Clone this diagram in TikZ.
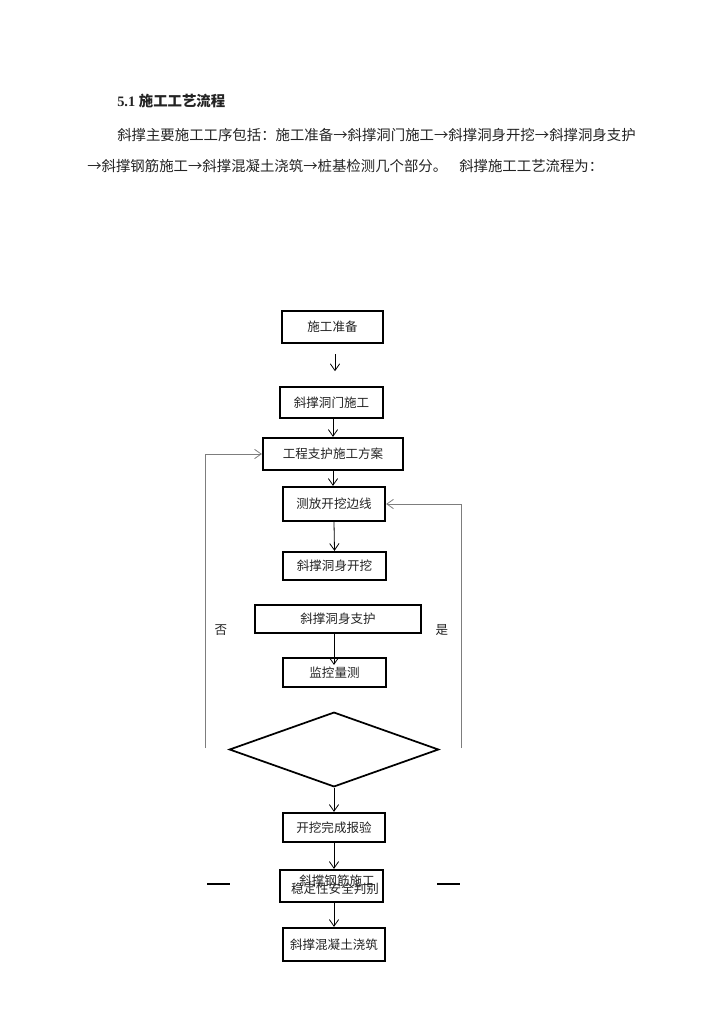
\documentclass[tikz,border=0pt]{standalone}
\usepackage{fontspec}
\usepackage{xcolor}
\usepackage{tikz}
\usetikzlibrary{arrows.meta,positioning,shapes.geometric}
\setmainfont{Liberation Serif}
\newfontfamily\cjk{Noto Sans CJK SC}
\definecolor{ink}{RGB}{35,35,35}
\definecolor{loopcol}{RGB}{125,125,125}
\tikzset{
  block/.style   ={rectangle, draw=black, line width=1.7pt, align=center, inner sep=0pt,
                   font=\cjk\fontsize{9.4}{11}\selectfont, text=ink},
  box/.style 2 args={block, minimum width=#1*0.75pt, minimum height=#2*0.75pt},
  judge/.style   ={diamond, draw=black, line width=1.3pt, inner sep=0pt,
                   minimum width=157pt, minimum height=56pt},
  flow/.style    ={-{Straight Barb[length=5pt,width=7pt]}, line width=0.6pt},
  back/.style    ={flow, draw=loopcol},
  para/.style    ={anchor=west, inner sep=0pt, font=\cjk\fontsize{10.8}{13}\selectfont, text=ink},
  lbl/.style     ={inner sep=0pt, font=\cjk\fontsize{9.4}{11}\selectfont, text=ink},
}
\begin{document}
\begin{tikzpicture}[x=0.75pt, y=-0.75pt]
    \useasboundingbox (0,0) rectangle (724,1024);

    % heading and text
    \node[para, font=\bfseries\fontsize{10.8}{13}\selectfont] (title) at (117,101)
        {5.1 {\cjk 施工工艺流程}};
    \node[para] (line1) at (117,135)
        {斜撑主要施工工序包括：施工准备→斜撑洞门施工→斜撑洞身开挖→斜撑洞身支护};
    \node[para] (line2) at (87,166)
        {→斜撑钢筋施工→斜撑混凝土浇筑→桩基检测几个部分。\hspace{9pt}斜撑施工工艺流程为：};

    % boxes
    \node[box={101}{32}]  (prep)   at (332.5,327)   {施工准备};
    \node[box={103}{31}]  (portal) at (331.5,402.5) {斜撑洞门施工};
    \node[box={140}{32}]  (plan)   at (333,454)     {工程支护施工方案};
    \node[box={102}{34}]  (mark)   at (334,504)     {测放开挖边线};
    \node[box={103}{28}]  (dig)    at (334.5,566)   {斜撑洞身开挖};
    \node[box={166}{28}]  (supp)   at (338,619)     {斜撑洞身支护};
    \node[box={103}{29}]  (mon)    at (334.5,672.5) {监控量测};
    \node[judge]          (check)  at (334,749.5)   {};
    \node[box={102}{29}]  (done)   at (334,827.5)   {开挖完成报验};
    \node[box={103}{32}]  (rebar)  at (331.5,886)   {};
    \node[lbl] (rebart) at (337,881) {斜撑钢筋施工};
    \node[lbl] (safet)  at (335,889) {稳定性安全判别};
    \node[box={102}{33}]  (pour)   at (334,944.5)   {斜撑混凝土浇筑};

    % arrows
    \draw[flow, shorten <=7.5pt, shorten >=11pt] (prep.south -| 335,0) -- (portal.north -| 335,0);
    \draw[flow] (portal.south -| 333,0) -- (plan.north -| 333,0);
    \draw[flow] (plan.south -| 333,0) -- (mark.north -| 333,0);
    \draw[flow] (mark.south) -- (dig.north);
    \draw[flow, shorten >=-6pt] (supp.south -| 334,0) -- (mon.north -| 334,0);
    \draw[flow] (check.south) -- (done.north);
    \draw[flow] (done.south) -- (done.south |- rebar.north);
    \draw[flow] (rebar.south -| 334,0) -- (pour.north -| 334,0);

    % loops
    \coordinate (noend)  at (205,748);
    \coordinate (yesend) at (461,748);
    \draw[back] (noend) |- (plan.west);
    \draw[back] (yesend) |- (mark.east);
    \node[lbl] (no)  at (221,630) {否};
    \node[lbl] (yes) at (442,630) {是};

    % stray strokes
    \coordinate (dashl) at (207,884);
    \coordinate (dashr) at (437,884);
    \draw[line width=0.8pt] (dashl) -- ++(23,0);
    \draw[line width=0.8pt] (dashr) -- ++(23,0);
\end{tikzpicture}
\end{document}
